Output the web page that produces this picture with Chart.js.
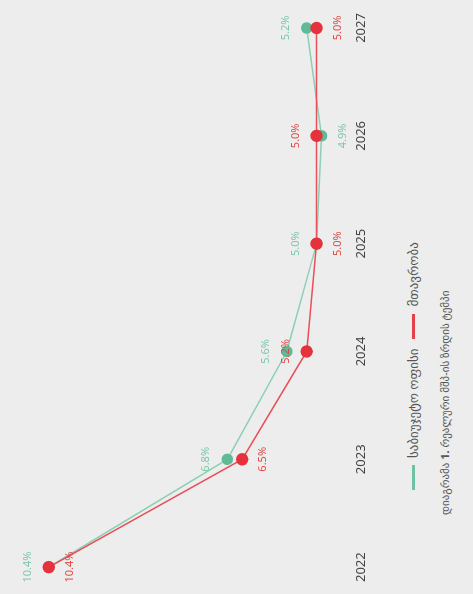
<!DOCTYPE html>
<html>
<head>
  <title>მშპ-ის ზრდა</title>
  <script src="https://cdn.jsdelivr.net/npm/chart.js"></script>
  <style>
    body { margin: 0; background: #ededed; overflow: hidden; }
    #wrap {
      position: absolute; left: 0; top: 0; width: 594px; height: 473px;
      transform-origin: 0 0; transform: translateY(594px) rotate(-90deg);
      font-family: "Noto Sans", "DejaVu Sans", sans-serif; color: #555;
    }
    #chartBox { position: absolute; left: 0; top: 0; width: 594px; height: 383px; }
    #legend { position: absolute; left: 104px; top: 404px; display: flex; align-items: center; font-size: 13px; color: #555; }
    #legend span.sw { display: inline-block; width: 25px; height: 3px; margin-right: 7px; }
    #legend span.item { margin-right: 10px; }
    #caption { position: absolute; left: 79px; top: 437px; font-size: 11px; color: #555; white-space: nowrap; }
  </style>
</head>
<body>
  <div id="wrap">
    <div id="chartBox"><canvas id="chart" width="594" height="383"></canvas></div>
    <div id="legend">
      <span class="sw" style="background:#6cc3a2"></span><span class="item">საბიუჯეტო ოფისი</span>
      <span class="sw" style="background:#e3404a"></span><span class="item">მთავრობა</span>
    </div>
    <div id="caption">დიაგრამა <b>1.</b> რეალური მშპ-ის ზრდის ტემპი</div>
  </div>

  <script>
    const years = ["2022", "2023", "2024", "2025", "2026", "2027"];
    const officeGrowth = [10.4, 6.8, 5.6, 5.0, 4.9, 5.2];
    const govGrowth = [10.4, 6.5, 5.2, 5.0, 5.0, 5.0];
    // where each value label sits relative to its point
    const officeAlign = ["above", "above", "above", "above", "below", "above"];
    const govAlign = ["below", "below", "above", "below", "above", "below"];

    const pointLabels = {
      id: "pointLabels",
      afterDatasetsDraw(chart) {
        const ctx = chart.ctx;
        ctx.save();
        ctx.font = "11px 'Noto Sans', 'DejaVu Sans', sans-serif";
        ctx.textAlign = "center";
        ctx.textBaseline = "middle";
        chart.data.datasets.forEach((ds, i) => {
          const meta = chart.getDatasetMeta(i);
          meta.data.forEach((pt, j) => {
            const off = ds.labelAlign[j] === "above" ? -21 : 21;
            ctx.fillStyle = ds.labelColor;
            ctx.fillText(ds.data[j].toFixed(1) + "%", pt.x, pt.y + off);
          });
        });
        ctx.restore();
      }
    };

    new Chart(document.getElementById("chart"), {
      type: "line",
      data: {
        labels: years,
        datasets: [
          {
            label: "საბიუჯეტო ოფისი",
            data: officeGrowth,
            borderColor: "#8ccfb4",
            backgroundColor: "#5fba97",
            pointBackgroundColor: "#5fba97",
            pointBorderColor: "#5fba97",
            borderWidth: 1.5,
            pointRadius: 5,
            labelColor: "#7cc8aa",
            labelAlign: officeAlign,
            order: 1
          },
          {
            label: "მთავრობა",
            data: govGrowth,
            borderColor: "#e8505a",
            backgroundColor: "#e5323d",
            pointBackgroundColor: "#e5323d",
            pointBorderColor: "#e5323d",
            borderWidth: 1.5,
            pointRadius: 5.5,
            labelColor: "#e04a45",
            labelAlign: govAlign,
            order: 0
          }
        ]
      },
      options: {
        responsive: false,
        animation: false,
        layout: { padding: { left: 26, right: 28, top: 19, bottom: 2 } },
        plugins: { legend: { display: false }, tooltip: { enabled: false } },
        scales: {
          x: {
            offset: false,
            grid: { display: false, drawTicks: false },
            border: { display: false },
            ticks: { padding: 12, color: "#444", font: { size: 13, family: "'Noto Sans', 'DejaVu Sans', sans-serif" } }
          },
          y: { display: false, min: 4.5, max: 11 }
        }
      },
      plugins: [pointLabels]
    });
  </script>
</body>
</html>
